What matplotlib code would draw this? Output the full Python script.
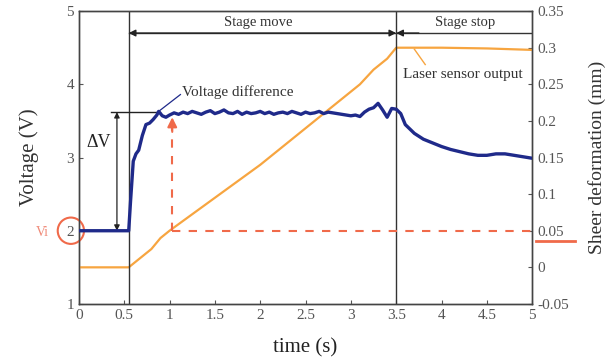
import matplotlib
matplotlib.use("Agg")
import matplotlib.pyplot as plt
from matplotlib.patches import Ellipse

plt.rcParams['font.family'] = ['Liberation Serif', 'DejaVu Serif']

# Voltage (blue) data
t_volt = [0.0, 0.55, 0.57, 0.60, 0.63, 0.66, 0.70, 0.74, 0.78, 0.82, 0.86, 0.88, 0.92, 0.96,
          1.00, 1.05, 1.10, 1.15, 1.20, 1.25, 1.30, 1.35, 1.40, 1.45, 1.50, 1.55, 1.60, 1.65,
          1.70, 1.75, 1.80, 1.85, 1.90, 1.95, 2.00, 2.05, 2.10, 2.15, 2.20, 2.25, 2.30, 2.35,
          2.40, 2.45, 2.50, 2.55, 2.60, 2.65, 2.70, 2.75, 2.80, 2.85, 2.90, 2.95, 3.00, 3.05,
          3.10, 3.15, 3.20, 3.25, 3.30, 3.35, 3.40, 3.45, 3.50, 3.55, 3.60, 3.70, 3.80, 3.90,
          4.00, 4.10, 4.20, 4.30, 4.40, 4.50, 4.60, 4.70, 4.80, 4.90, 5.00]
v_volt = [2.00, 2.00, 2.40, 2.95, 3.05, 3.10, 3.30, 3.45, 3.47, 3.52, 3.58, 3.63, 3.57, 3.55,
          3.58, 3.61, 3.59, 3.62, 3.60, 3.63, 3.61, 3.59, 3.62, 3.64, 3.60, 3.62, 3.65, 3.61,
          3.60, 3.63, 3.59, 3.62, 3.60, 3.61, 3.63, 3.60, 3.62, 3.59, 3.61, 3.62, 3.60, 3.63,
          3.61, 3.59, 3.62, 3.60, 3.61, 3.63, 3.60, 3.62, 3.61, 3.60, 3.59, 3.58, 3.57, 3.58,
          3.56, 3.62, 3.66, 3.68, 3.74, 3.65, 3.55, 3.67, 3.66, 3.60, 3.45, 3.33, 3.25, 3.20,
          3.15, 3.11, 3.08, 3.05, 3.03, 3.03, 3.05, 3.05, 3.03, 3.01, 2.99]

# Laser sensor (orange) data, right axis (mm)
t_laser = [0.0, 0.55, 0.60, 0.80, 0.90, 1.00, 1.50, 2.00, 2.50, 2.90, 3.10, 3.25, 3.40, 3.50,
           4.00, 4.50, 5.00]
s_laser = [0.0, 0.0, 0.005, 0.025, 0.040, 0.050, 0.095, 0.140, 0.190, 0.230, 0.250, 0.270,
           0.285, 0.300, 0.300, 0.299, 0.297]

x_ticks = [0, 0.5, 1, 1.5, 2, 2.5, 3, 3.5, 4, 4.5, 5]
x_tick_labels = ['0', '0.5', '1', '1.5', '2', '2.5', '3', '3.5', '4', '4.5', '5']
yl_ticks = [1, 2, 3, 4, 5]
yr_ticks = [-0.05, 0, 0.05, 0.1, 0.15, 0.2, 0.25, 0.3, 0.35]
yr_tick_labels = ['-0.05', '0', '0.05', '0.1', '0.15', '0.2', '0.25', '0.3', '0.35']

BLUE = '#1f2a8a'
ORANGE = '#f7a540'
RED = '#f06a4a'
GRAY = '#555555'

fig = plt.figure(figsize=(6.16, 3.58), dpi=100)
ax = fig.add_axes([0.128, 0.151, 0.736, 0.818])
ax2 = ax.twinx()

ax.set_xlim(0, 5)
ax.set_ylim(1, 5)
ax2.set_ylim(-0.05, 0.35)

ax2.plot(t_laser, s_laser, color=ORANGE, lw=1.6, zorder=3)
ax.plot(t_volt, v_volt, color=BLUE, lw=2.4, zorder=4)
ax.set_zorder(ax2.get_zorder() + 1)
ax.patch.set_visible(False)

ax.set_xticks(x_ticks)
ax.set_xticklabels(x_tick_labels)
ax.set_yticks(yl_ticks)
ax2.set_yticks(yr_ticks)
ax2.set_yticklabels(yr_tick_labels)
for a in (ax, ax2):
    a.tick_params(direction='in', length=3, width=0.8, colors=GRAY, labelsize=11)
    for sp in a.spines.values():
        sp.set_color('#444444')
        sp.set_linewidth(1.0)

ax.set_xlabel('time (s)', fontsize=15, color='#222222', labelpad=12)
ax.set_ylabel('Voltage (V)', fontsize=15, color='#333333', labelpad=20)
ax2.set_ylabel('Sheer deformation (mm)', fontsize=14, color='#333333', labelpad=14)

# Stage boundaries
ax.axvline(0.55, color='#333333', lw=1.0, zorder=2)
ax.axvline(3.5, color='#333333', lw=1.0, zorder=2)
ax.plot([0.55, 5], [4.70, 4.70], color='#333333', lw=1.0)
ax.annotate('', xy=(0.55, 4.70), xytext=(3.5, 4.70),
            arrowprops=dict(arrowstyle='<|-|>', color='#222222', lw=1.0,
                            mutation_scale=10, shrinkA=0, shrinkB=0))
ax.annotate('', xy=(3.5, 4.70), xytext=(3.75, 4.70),
            arrowprops=dict(arrowstyle='-|>', color='#222222', lw=1.0,
                            mutation_scale=10, shrinkA=0, shrinkB=0))
ax.text(1.98, 4.85, 'Stage move', ha='center', va='center', fontsize=10.5, color='#333333')
ax.text(4.26, 4.85, 'Stage stop', ha='center', va='center', fontsize=10.5, color='#333333')

# Delta V
ax.plot([0.36, 0.9], [3.62, 3.62], color='#222222', lw=1.0)
ax.annotate('', xy=(0.42, 3.62), xytext=(0.42, 2.0),
            arrowprops=dict(arrowstyle='<|-|>', color='#222222', lw=0.9,
                            mutation_scale=8, shrinkA=0, shrinkB=0))
ax.text(0.22, 3.2, 'ΔV', ha='center', va='center', fontsize=13, color='#222222')

# Voltage difference label
ax.plot([0.88, 1.12], [3.63, 3.86], color=BLUE, lw=0.9)
ax.text(1.14, 3.9, 'Voltage difference', ha='left', va='center', fontsize=11, color='#333333')

# Laser sensor output label
ax.plot([3.70, 3.82], [4.48, 4.27], color=ORANGE, lw=1.0)
ax.text(3.58, 4.14, 'Laser sensor output', ha='left', va='center', fontsize=11, color='#333333')

# Red dashed indicators
ax.plot([1.03, 1.03], [2.0, 3.40], color=RED, lw=1.5, ls=(0, (4, 4)))
ax.annotate('', xy=(1.03, 3.55), xytext=(1.03, 3.35),
            arrowprops=dict(arrowstyle='-|>', color=RED, lw=1.5, mutation_scale=14,
                            shrinkA=0, shrinkB=0))
ax.plot([1.03, 5], [2.0, 2.0], color=RED, lw=1.5, ls=(0, (4, 4)))
ax.plot([5.04, 5.47], [1.86, 1.86], color=RED, lw=2.0, clip_on=False)

# Vi circle
ax.add_patch(Ellipse((-0.088, 2.0), 0.29, 0.36, fill=False, edgecolor=RED, lw=1.5,
                     clip_on=False))
ax.text(-0.40, 1.97, 'Vi', ha='center', va='center', fontsize=10, color='#f08a78',
        clip_on=False)

fig.savefig('out.png', dpi=100)
